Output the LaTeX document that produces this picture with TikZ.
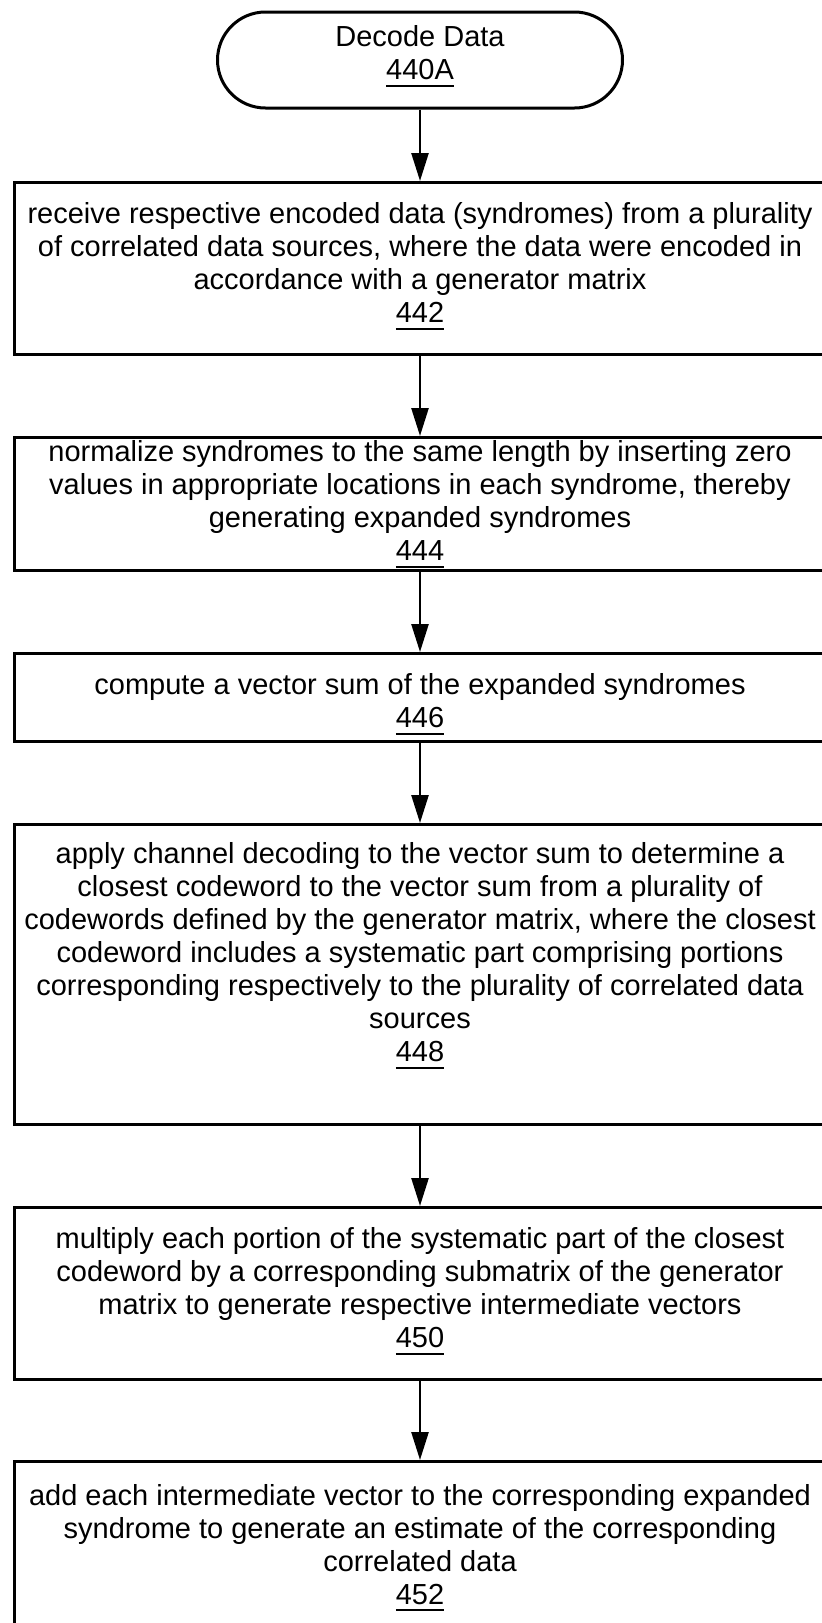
\documentclass[tikz,border=0pt]{standalone}
\usepackage{fontspec}
\setmainfont{Liberation Sans}
\usetikzlibrary{arrows.meta,shapes.misc}
% underlined reference numeral
\newcommand\refnum[1]{\setbox0\hbox{#1}\leavevmode\rlap{\rule[-7pt]{\wd0}{2pt}}\box0}
% invisible struts that move a text block up (extra depth) or down (extra height)
\newcommand\lowpad[1]{\rule[-#1]{0pt}{1pt}}
\newcommand\highpad[1]{\rule{0pt}{#1}}

\begin{document}
\begin{tikzpicture}[x=1pt,y=-1pt,
  every node/.style={font=\fontsize{29}{33}\selectfont, align=center, inner sep=0pt},
  stepbox/.style={draw, line width=3pt, minimum width=812pt, anchor=north},
  termbox/.style={draw, line width=3pt, rounded rectangle, minimum width=405pt, minimum height=96pt},
  flow/.style={line width=2.5pt, -{Triangle[width=17pt,length=28pt]}}]
\useasboundingbox (0,0) rectangle (822,1623);
\clip (0,0) rectangle (822,1623);

\node[termbox] (start) at (420,60) {Decode Data\\\refnum{440A}\lowpad{15pt}};

\node[stepbox, minimum height=172pt] (s442) at (420,181)
  {receive respective encoded data (syndromes) from a plurality\\
   of correlated data sources, where the data were encoded in\\
   accordance with a generator matrix\\\refnum{442}\lowpad{12pt}};

\node[stepbox, minimum height=133pt] (s444) at (420,436)
  {normalize syndromes to the same length by inserting zero\\
   values in appropriate locations in each syndrome, thereby\\
   generating expanded syndromes\\\refnum{444}};

\node[stepbox, minimum height=88pt] (s446) at (420,652)
  {\highpad{34pt}compute a vector sum of the expanded syndromes\\\refnum{446}};

\node[stepbox, minimum height=300pt] (s448) at (420,823)
  {apply channel decoding to the vector sum to determine a\\
   closest codeword to the vector sum from a plurality of\\
   codewords defined by the generator matrix, where the closest\\
   codeword includes a systematic part comprising portions\\
   corresponding respectively to the plurality of correlated data\\
   sources\\\refnum{448}\lowpad{45pt}};

\node[stepbox, minimum height=172pt] (s450) at (420,1206)
  {multiply each portion of the systematic part of the closest\\
   codeword by a corresponding submatrix of the generator\\
   matrix to generate respective intermediate vectors\\\refnum{450}\lowpad{12pt}};

\node[stepbox, minimum height=172pt] (s452) at (420,1460)
  {add each intermediate vector to the corresponding expanded\\
   syndrome to generate an estimate of the corresponding\\
   correlated data\\\refnum{452}};

\draw[flow] (start) -- (s442);
\draw[flow] (s442) -- (s444);
\draw[flow] (s444) -- (s446);
\draw[flow] (s446) -- (s448);
\draw[flow] (s448) -- (s450);
\draw[flow] (s450) -- (s452);
\end{tikzpicture}
\end{document}
